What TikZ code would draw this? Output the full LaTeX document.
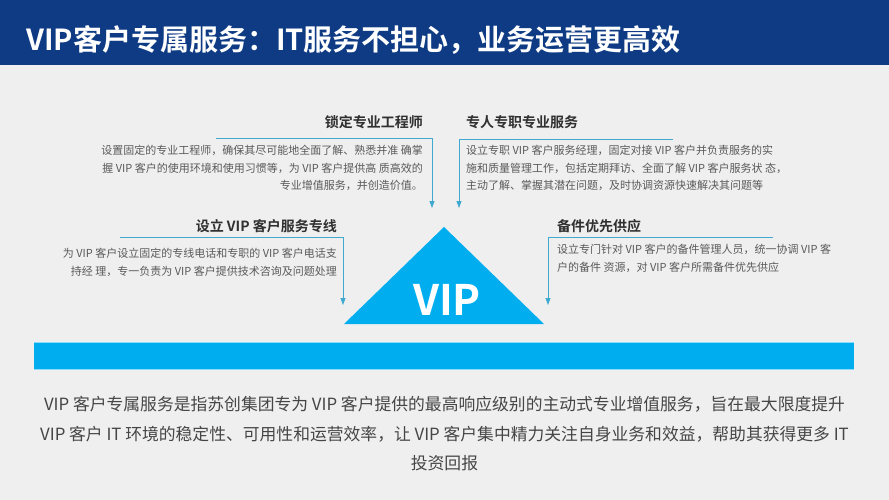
\documentclass[tikz,border=0pt]{standalone}
\usepackage{fontspec}
\setmainfont{Noto Sans CJK SC}[BoldFont={Noto Sans CJK SC Bold}]
\usetikzlibrary{arrows.meta}

\definecolor{barblue}{HTML}{0E3B84}
\definecolor{vipcyan}{HTML}{00AEEF}
\definecolor{linkblue}{HTML}{3FA9CF}
\definecolor{paper}{HTML}{EFEFEF}
\definecolor{bodygray}{HTML}{5A5A5A}
\definecolor{headgray}{HTML}{303030}

\tikzset{
  head/.style={inner sep=0pt,text=headgray,font=\fontsize{14}{16}\selectfont\bfseries},
  body/.style={inner sep=0pt,text=bodygray,font=\fontsize{11}{17.5}\selectfont},
  link/.style={linkblue,line width=0.8pt,-{Triangle[width=5pt,length=7pt]}}
}

\begin{document}
\begin{tikzpicture}[x=1pt,y=-1pt]
\useasboundingbox (0,0) rectangle (889,500);
\fill[paper] (0,0) rectangle (889,500);
% title bar
\fill[barblue] (0,0) rectangle (889,65);
\node[anchor=west,inner sep=0pt,text=white,font=\fontsize{29}{32}\selectfont\bfseries] (title) at (26,40)
  {VIP客户专属服务：IT服务不担心，业务运营更高效};

% upper pair
\node[head,anchor=east] (lockH) at (423,122) {锁定专业工程师};
\node[body,anchor=north east,align=right] (lockT) at (423,145)
  {设置固定的专业工程师，确保其尽可能地全面了解、熟悉并准 确掌\\
   握 VIP 客户的使用环境和使用习惯等，为 VIP 客户提供高 质高效的\\
   专业增值服务，并创造价值。};
\node[head,anchor=west] (mgrH) at (466,122) {专人专职专业服务};
\node[body,anchor=north west,align=left] (mgrT) at (466,145)
  {设立专职 VIP 客户服务经理，固定对接 VIP 客户并负责服务的实\\
   施和质量管理工作，包括定期拜访、全面了解 VIP 客户服务状 态，\\
   主动了解、掌握其潜在问题，及时协调资源快速解决其问题等};

% lower pair
\node[head,anchor=east] (lineH) at (337,226) {设立 VIP 客户服务专线};
\node[body,anchor=north east,align=right] (lineT) at (337,248)
  {为 VIP 客户设立固定的专线电话和专职的 VIP 客户电话支\\
   持经 理，专一负责为 VIP 客户提供技术咨询及问题处理};
\node[head,anchor=west] (partH) at (557,226) {备件优先供应};
\node[body,anchor=north west,align=left] (partT) at (557,244)
  {设立专门针对 VIP 客户的备件管理人员，统一协调 VIP 客\\
   户的备件 资源，对 VIP 客户所需备件优先供应};

% connectors
\coordinate (lockS) at (216,138); \coordinate (lockE) at (432,208);
\coordinate (mgrS)  at (673,139); \coordinate (mgrE)  at (459,208);
\coordinate (lineS) at (120,237); \coordinate (lineE) at (343,305);
\coordinate (partS) at (773,237); \coordinate (partE) at (548,305);
\foreach \s/\e in {lockS/lockE, mgrS/mgrE, lineS/lineE, partS/partE}{
  \draw[link] (\s) -| (\e);
}

% triangle
\fill[vipcyan] (344,324) -- (444,227) -- (544,324) -- cycle;
\node[inner sep=0pt,text=white,font=\fontsize{42}{44}\selectfont\bfseries] (vip) at (447,300) {VIP};

% band and summary
\fill[vipcyan] (34,342) rectangle (854,369);
\draw[vipcyan!45,line width=0.8pt] (34,342) -- (854,342) (34,369) -- (854,369);
\node[inner sep=0pt,align=center,text=headgray!90,font=\fontsize{16.8}{29.5}\selectfont] (sum) at (444.5,434)
  {VIP 客户专属服务是指苏创集团专为 VIP 客户提供的最高响应级别的主动式专业增值服务，旨在最大限度提升\\
   VIP 客户 IT 环境的稳定性、可用性和运营效率，让 VIP 客户集中精力关注自身业务和效益，帮助其获得更多 IT\\
   投资回报};
\end{tikzpicture}
\end{document}
